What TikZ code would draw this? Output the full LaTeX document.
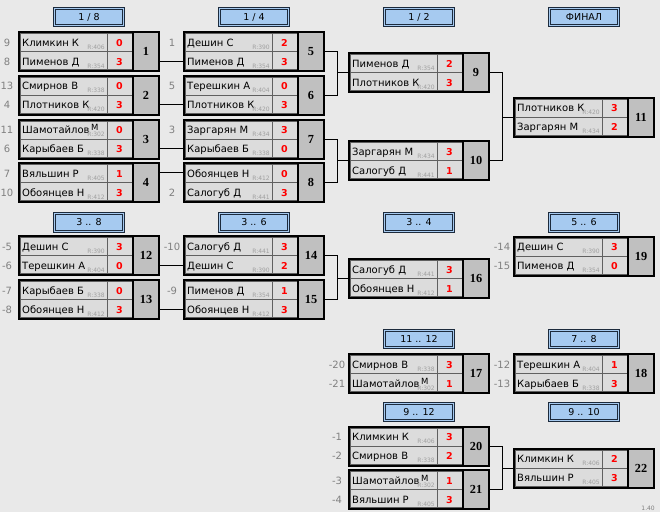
\documentclass[tikz,border=0pt]{standalone}
\usepackage{fontspec}
\setmainfont{DejaVu Sans}
\newfontfamily\numfont{Liberation Serif}
\definecolor{bgc}{HTML}{E9E9E9}
\definecolor{cellc}{HTML}{DCDCDC}
\definecolor{numc}{HTML}{C0C0C0}
\definecolor{hdrc}{HTML}{A6CAF0}
\definecolor{hdrl}{HTML}{1C2A3C}
\definecolor{seedc}{HTML}{808080}
\definecolor{ratc}{HTML}{A0A0A0}
\definecolor{clinec}{HTML}{606060}
\tikzset{
  conn/.style={draw=black, line width=1pt},
  mframe/.style={draw=black, line width=2pt, minimum width=140pt, minimum height=39pt, inner sep=0pt, outer sep=0pt},
  cline/.style={draw=clinec, line width=0.8pt},
  hdr/.style={draw=hdrl, line width=0.8pt, double=hdrc, double distance=1.2pt, fill=hdrc, minimum width=68.5pt, minimum height=17.5pt, inner sep=0pt, font=\fontsize{9.5}{10}\selectfont},
  nm/.style={inner sep=0pt, font=\fontsize{10}{11}\selectfont},
  nmsmall/.style={inner sep=0pt, font=\fontsize{8.5}{9}\selectfont},
  rt/.style={inner sep=0pt, text=ratc, font=\fontsize{6}{6}\selectfont},
  sc/.style={inner sep=0pt, text=red, font=\bfseries\fontsize{9.5}{10}\selectfont},
  sd/.style={inner sep=0pt, text=seedc, font=\fontsize{10}{10}\selectfont},
  numf/.style={inner sep=0pt, font=\numfont\bfseries\fontsize{12.3}{13}\selectfont},
}
\newcommand\mtch[3]{%
  \def\curn{#1}\def\curx{#2}\def\cury{#3}%
  \fill[cellc] (#2,#3) rectangle (#2+114,#3+39);
  \draw[cline] (#2+1.5,#3+1.5) rectangle (#2+113,#3+37.5);
  \draw[cline] (#2+88,#3) -- (#2+88,#3+39);
  \draw[cline] (#2,#3+19.5) -- (#2+114,#3+19.5);
  \fill[numc] (#2+114,#3) rectangle (#2+140,#3+39);
  \draw[line width=2pt] (#2+114,#3) -- (#2+114,#3+39);
  \node[mframe, anchor=north west] (m#1) at (#2,#3) {};
  \node[numf] (m#1n) at (#2+127,#3+19.5) {#1};
  \coordinate (m#1o1) at (#2+140,#3+9.75);
  \coordinate (m#1o2) at (#2+140,#3+29.25);
  \coordinate (m#1i1) at (#2,#3+9.75);
  \coordinate (m#1i2) at (#2,#3+29.25);
}
\newcommand\rowbase[1]{\ifnum#1=1 \def\rb{14.3}\else\def\rb{33.3}\fi}
\newcommand\prow[5]{%
  \rowbase{#1}%
  \node[nm, anchor=base west] (m\curn p#1) at (\curx+3,\cury+\rb) {#2};
  \node[rt, anchor=base east] (m\curn r#1) at (\curx+86,\cury+\rb+3) {R:#3};
  \node[sc, anchor=base] (m\curn s#1) at (\curx+100.5,\cury+\rb) {#4};
  \ifx\relax#5\relax\else
  \node[sd, anchor=base] (m\curn l#1) at (\curx-12,\cury+\rb) {#5};
  \fi
}
% long name whose initial is lifted above the rating, as in the reference
\newcommand\prowlong[6]{%
  \rowbase{#1}%
  \node[nm, anchor=base west] (m\curn p#1) at (\curx+3,\cury+\rb) {#2};
  \node[nmsmall, anchor=base west] (m\curn q#1) at (\curx+72,\cury+\rb-3.2) {#3};
  \node[rt, anchor=base east] (m\curn r#1) at (\curx+86,\cury+\rb+3) {R:#4};
  \node[sc, anchor=base] (m\curn s#1) at (\curx+100.5,\cury+\rb) {#5};
  \node[sd, anchor=base] (m\curn l#1) at (\curx-12,\cury+\rb) {#6};
}
\begin{document}
\begin{tikzpicture}[x=1pt,y=-1pt]
\useasboundingbox (0,0) rectangle (660,512);
\fill[bgc] (0,0) rectangle (660,512);

% headers
\node[hdr] (h1) at (89,17) {1 / 8};
\node[hdr] (h2) at (254,17) {1 / 4};
\node[hdr] (h3) at (419,17) {1 / 2};
\node[hdr] (h4) at (584,17) {ФИНАЛ};
\node[hdr] (h5) at (89,222.5) {3 .. 8};
\node[hdr] (h6) at (254,222.5) {3 .. 6};
\node[hdr] (h7) at (419,222.5) {3 .. 4};
\node[hdr] (h8) at (584,222.5) {5 .. 6};
\node[hdr] (h9) at (419,339) {11 .. 12};
\node[hdr] (h10) at (584,339) {7 .. 8};
\node[hdr] (h11) at (419,412) {9 .. 12};
\node[hdr] (h12) at (584,412) {9 .. 10};

% matches
\mtch{1}{19}{32}
\prow{1}{Климкин К}{406}{0}{9}
\prow{2}{Пименов Д}{354}{3}{8}
\mtch{2}{19}{75.5}
\prow{1}{Смирнов В}{338}{0}{13}
\prow{2}{Плотников К}{420}{3}{4}
\mtch{3}{19}{119.5}
\prowlong{1}{Шамотайлов}{М}{302}{0}{11}
\prow{2}{Карыбаев Б}{338}{3}{6}
\mtch{4}{19}{163}
\prow{1}{Вяльшин Р}{405}{1}{7}
\prow{2}{Обоянцев Н}{412}{3}{10}

\mtch{5}{184}{32}
\prow{1}{Дешин С}{390}{2}{1}
\prow{2}{Пименов Д}{354}{3}{}
\mtch{6}{184}{75.5}
\prow{1}{Терешкин А}{404}{0}{5}
\prow{2}{Плотников К}{420}{3}{}
\mtch{7}{184}{119.5}
\prow{1}{Заргарян М}{434}{3}{3}
\prow{2}{Карыбаев Б}{338}{0}{}
\mtch{8}{184}{163}
\prow{1}{Обоянцев Н}{412}{0}{}
\prow{2}{Салогуб Д}{441}{3}{2}

\mtch{9}{349}{53}
\prow{1}{Пименов Д}{354}{2}{}
\prow{2}{Плотников К}{420}{3}{}
\mtch{10}{349}{141}
\prow{1}{Заргарян М}{434}{3}{}
\prow{2}{Салогуб Д}{441}{1}{}
\mtch{11}{514}{97.5}
\prow{1}{Плотников К}{420}{3}{}
\prow{2}{Заргарян М}{434}{2}{}

\mtch{12}{19}{236}
\prow{1}{Дешин С}{390}{3}{-5}
\prow{2}{Терешкин А}{404}{0}{-6}
\mtch{13}{19}{280}
\prow{1}{Карыбаев Б}{338}{0}{-7}
\prow{2}{Обоянцев Н}{412}{3}{-8}
\mtch{14}{184}{236}
\prow{1}{Салогуб Д}{441}{3}{-10}
\prow{2}{Дешин С}{390}{2}{}
\mtch{15}{184}{280}
\prow{1}{Пименов Д}{354}{1}{-9}
\prow{2}{Обоянцев Н}{412}{3}{}
\mtch{16}{349}{259}
\prow{1}{Салогуб Д}{441}{3}{}
\prow{2}{Обоянцев Н}{412}{1}{}
\mtch{19}{514}{236.5}
\prow{1}{Дешин С}{390}{3}{-14}
\prow{2}{Пименов Д}{354}{0}{-15}

\mtch{17}{349}{354}
\prow{1}{Смирнов В}{338}{3}{-20}
\prowlong{2}{Шамотайлов}{М}{302}{1}{-21}
\mtch{18}{514}{354}
\prow{1}{Терешкин А}{404}{1}{-12}
\prow{2}{Карыбаев Б}{338}{3}{-13}

\mtch{20}{349}{426.5}
\prow{1}{Климкин К}{406}{3}{-1}
\prow{2}{Смирнов В}{338}{2}{-2}
\mtch{21}{349}{470}
\prowlong{1}{Шамотайлов}{М}{302}{1}{-3}
\prow{2}{Вяльшин Р}{405}{3}{-4}
\mtch{22}{514}{448.5}
\prow{1}{Климкин К}{406}{2}{}
\prow{2}{Вяльшин Р}{405}{3}{}

% connectors
\draw[conn] (m1o2) -- (m5i2);
\draw[conn] (m2o2) -- (m6i2);
\draw[conn] (m3o2) -- (m7i2);
\draw[conn] (m4o1) -- (m8i1);
\draw[conn] (m12o2) -- (m14i2);
\draw[conn] (m13o2) -- (m15i2);

\coordinate (b9) at (337,72.5);
\draw[conn] (m5.east) -| (b9);
\draw[conn] (m6.east) -| (b9);
\draw[conn] (b9) -- (m9.west);
\coordinate (b10) at (337,160.5);
\draw[conn] (m7.east) -| (b10);
\draw[conn] (m8.east) -| (b10);
\draw[conn] (b10) -- (m10.west);
\coordinate (b11) at (502,117);
\draw[conn] (m9.east) -| (b11);
\draw[conn] (m10.east) -| (b11);
\draw[conn] (b11) -- (m11.west);
\coordinate (b16) at (337,278.5);
\draw[conn] (m14.east) -| (b16);
\draw[conn] (m15.east) -| (b16);
\draw[conn] (b16) -- (m16.west);
\coordinate (b22) at (502,468);
\draw[conn] (m20.east) -| (b22);
\draw[conn] (m21.east) -| (b22);
\draw[conn] (b22) -- (m22.west);

\node[inner sep=0pt, text=seedc, font=\fontsize{6}{6}\selectfont, anchor=base east] (ver) at (655,510) {1.40};
\end{tikzpicture}
\end{document}
